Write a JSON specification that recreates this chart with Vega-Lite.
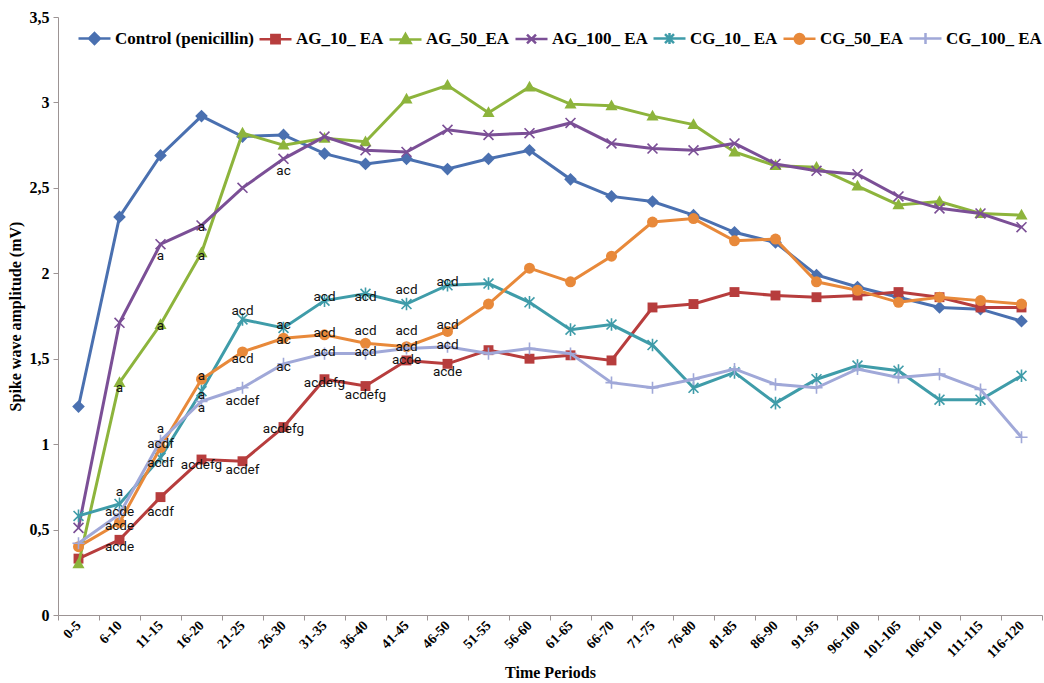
{
"$schema": "https://vega.github.io/schema/vega-lite/v6.json",
"width": 984, "height": 598,
"autosize": "none",
"padding": {"left": 58, "top": 17, "right": 2, "bottom": 68},
"background": "white",
"config": {"view": {"stroke": null}, "font": "Liberation Serif",
 "legend": {"orient": "none", "legendX": 19, "legendY": 4, "direction": "horizontal", "columns": 7, "symbolSize": 1024, "symbolStrokeWidth": 2.5, "labelFont": "Liberation Serif", "labelFontWeight": "bold", "labelFontSize": 17, "labelColor": "black", "labelOffset": 3, "columnPadding": 0, "labelLimit": 0}},
"datasets": {
"series": [
{"p":"0-5","s":"Control (penicillin)","v":1.22},{"p":"6-10","s":"Control (penicillin)","v":2.33},{"p":"11-15","s":"Control (penicillin)","v":2.69},{"p":"16-20","s":"Control (penicillin)","v":2.92},{"p":"21-25","s":"Control (penicillin)","v":2.80},{"p":"26-30","s":"Control (penicillin)","v":2.81},{"p":"31-35","s":"Control (penicillin)","v":2.70},{"p":"36-40","s":"Control (penicillin)","v":2.64},{"p":"41-45","s":"Control (penicillin)","v":2.67},{"p":"46-50","s":"Control (penicillin)","v":2.61},{"p":"51-55","s":"Control (penicillin)","v":2.67},{"p":"56-60","s":"Control (penicillin)","v":2.72},{"p":"61-65","s":"Control (penicillin)","v":2.55},{"p":"66-70","s":"Control (penicillin)","v":2.45},{"p":"71-75","s":"Control (penicillin)","v":2.42},{"p":"76-80","s":"Control (penicillin)","v":2.34},{"p":"81-85","s":"Control (penicillin)","v":2.24},{"p":"86-90","s":"Control (penicillin)","v":2.18},{"p":"91-95","s":"Control (penicillin)","v":1.99},{"p":"96-100","s":"Control (penicillin)","v":1.92},{"p":"101-105","s":"Control (penicillin)","v":1.86},{"p":"106-110","s":"Control (penicillin)","v":1.80},{"p":"111-115","s":"Control (penicillin)","v":1.79},{"p":"116-120","s":"Control (penicillin)","v":1.72},
{"p":"0-5","s":"AG_10_ EA","v":0.33},{"p":"6-10","s":"AG_10_ EA","v":0.44},{"p":"11-15","s":"AG_10_ EA","v":0.69},{"p":"16-20","s":"AG_10_ EA","v":0.91},{"p":"21-25","s":"AG_10_ EA","v":0.90},{"p":"26-30","s":"AG_10_ EA","v":1.10},{"p":"31-35","s":"AG_10_ EA","v":1.38},{"p":"36-40","s":"AG_10_ EA","v":1.34},{"p":"41-45","s":"AG_10_ EA","v":1.49},{"p":"46-50","s":"AG_10_ EA","v":1.47},{"p":"51-55","s":"AG_10_ EA","v":1.55},{"p":"56-60","s":"AG_10_ EA","v":1.50},{"p":"61-65","s":"AG_10_ EA","v":1.52},{"p":"66-70","s":"AG_10_ EA","v":1.49},{"p":"71-75","s":"AG_10_ EA","v":1.80},{"p":"76-80","s":"AG_10_ EA","v":1.82},{"p":"81-85","s":"AG_10_ EA","v":1.89},{"p":"86-90","s":"AG_10_ EA","v":1.87},{"p":"91-95","s":"AG_10_ EA","v":1.86},{"p":"96-100","s":"AG_10_ EA","v":1.87},{"p":"101-105","s":"AG_10_ EA","v":1.89},{"p":"106-110","s":"AG_10_ EA","v":1.86},{"p":"111-115","s":"AG_10_ EA","v":1.80},{"p":"116-120","s":"AG_10_ EA","v":1.80},
{"p":"0-5","s":"AG_50_EA","v":0.30},{"p":"6-10","s":"AG_50_EA","v":1.36},{"p":"11-15","s":"AG_50_EA","v":1.70},{"p":"16-20","s":"AG_50_EA","v":2.12},{"p":"21-25","s":"AG_50_EA","v":2.82},{"p":"26-30","s":"AG_50_EA","v":2.75},{"p":"31-35","s":"AG_50_EA","v":2.79},{"p":"36-40","s":"AG_50_EA","v":2.77},{"p":"41-45","s":"AG_50_EA","v":3.02},{"p":"46-50","s":"AG_50_EA","v":3.10},{"p":"51-55","s":"AG_50_EA","v":2.94},{"p":"56-60","s":"AG_50_EA","v":3.09},{"p":"61-65","s":"AG_50_EA","v":2.99},{"p":"66-70","s":"AG_50_EA","v":2.98},{"p":"71-75","s":"AG_50_EA","v":2.92},{"p":"76-80","s":"AG_50_EA","v":2.87},{"p":"81-85","s":"AG_50_EA","v":2.71},{"p":"86-90","s":"AG_50_EA","v":2.63},{"p":"91-95","s":"AG_50_EA","v":2.62},{"p":"96-100","s":"AG_50_EA","v":2.51},{"p":"101-105","s":"AG_50_EA","v":2.40},{"p":"106-110","s":"AG_50_EA","v":2.42},{"p":"111-115","s":"AG_50_EA","v":2.35},{"p":"116-120","s":"AG_50_EA","v":2.34},
{"p":"0-5","s":"AG_100_ EA","v":0.51},{"p":"6-10","s":"AG_100_ EA","v":1.71},{"p":"11-15","s":"AG_100_ EA","v":2.17},{"p":"16-20","s":"AG_100_ EA","v":2.28},{"p":"21-25","s":"AG_100_ EA","v":2.50},{"p":"26-30","s":"AG_100_ EA","v":2.67},{"p":"31-35","s":"AG_100_ EA","v":2.80},{"p":"36-40","s":"AG_100_ EA","v":2.72},{"p":"41-45","s":"AG_100_ EA","v":2.71},{"p":"46-50","s":"AG_100_ EA","v":2.84},{"p":"51-55","s":"AG_100_ EA","v":2.81},{"p":"56-60","s":"AG_100_ EA","v":2.82},{"p":"61-65","s":"AG_100_ EA","v":2.88},{"p":"66-70","s":"AG_100_ EA","v":2.76},{"p":"71-75","s":"AG_100_ EA","v":2.73},{"p":"76-80","s":"AG_100_ EA","v":2.72},{"p":"81-85","s":"AG_100_ EA","v":2.76},{"p":"86-90","s":"AG_100_ EA","v":2.64},{"p":"91-95","s":"AG_100_ EA","v":2.60},{"p":"96-100","s":"AG_100_ EA","v":2.58},{"p":"101-105","s":"AG_100_ EA","v":2.45},{"p":"106-110","s":"AG_100_ EA","v":2.38},{"p":"111-115","s":"AG_100_ EA","v":2.35},{"p":"116-120","s":"AG_100_ EA","v":2.27},
{"p":"0-5","s":"CG_10_ EA","v":0.58},{"p":"6-10","s":"CG_10_ EA","v":0.65},{"p":"11-15","s":"CG_10_ EA","v":0.92},{"p":"16-20","s":"CG_10_ EA","v":1.31},{"p":"21-25","s":"CG_10_ EA","v":1.73},{"p":"26-30","s":"CG_10_ EA","v":1.68},{"p":"31-35","s":"CG_10_ EA","v":1.84},{"p":"36-40","s":"CG_10_ EA","v":1.88},{"p":"41-45","s":"CG_10_ EA","v":1.82},{"p":"46-50","s":"CG_10_ EA","v":1.93},{"p":"51-55","s":"CG_10_ EA","v":1.94},{"p":"56-60","s":"CG_10_ EA","v":1.83},{"p":"61-65","s":"CG_10_ EA","v":1.67},{"p":"66-70","s":"CG_10_ EA","v":1.70},{"p":"71-75","s":"CG_10_ EA","v":1.58},{"p":"76-80","s":"CG_10_ EA","v":1.33},{"p":"81-85","s":"CG_10_ EA","v":1.42},{"p":"86-90","s":"CG_10_ EA","v":1.24},{"p":"91-95","s":"CG_10_ EA","v":1.38},{"p":"96-100","s":"CG_10_ EA","v":1.46},{"p":"101-105","s":"CG_10_ EA","v":1.43},{"p":"106-110","s":"CG_10_ EA","v":1.26},{"p":"111-115","s":"CG_10_ EA","v":1.26},{"p":"116-120","s":"CG_10_ EA","v":1.40},
{"p":"0-5","s":"CG_50_EA","v":0.40},{"p":"6-10","s":"CG_50_EA","v":0.54},{"p":"11-15","s":"CG_50_EA","v":0.98},{"p":"16-20","s":"CG_50_EA","v":1.38},{"p":"21-25","s":"CG_50_EA","v":1.54},{"p":"26-30","s":"CG_50_EA","v":1.62},{"p":"31-35","s":"CG_50_EA","v":1.64},{"p":"36-40","s":"CG_50_EA","v":1.59},{"p":"41-45","s":"CG_50_EA","v":1.57},{"p":"46-50","s":"CG_50_EA","v":1.66},{"p":"51-55","s":"CG_50_EA","v":1.82},{"p":"56-60","s":"CG_50_EA","v":2.03},{"p":"61-65","s":"CG_50_EA","v":1.95},{"p":"66-70","s":"CG_50_EA","v":2.10},{"p":"71-75","s":"CG_50_EA","v":2.30},{"p":"76-80","s":"CG_50_EA","v":2.32},{"p":"81-85","s":"CG_50_EA","v":2.19},{"p":"86-90","s":"CG_50_EA","v":2.20},{"p":"91-95","s":"CG_50_EA","v":1.95},{"p":"96-100","s":"CG_50_EA","v":1.90},{"p":"101-105","s":"CG_50_EA","v":1.83},{"p":"106-110","s":"CG_50_EA","v":1.86},{"p":"111-115","s":"CG_50_EA","v":1.84},{"p":"116-120","s":"CG_50_EA","v":1.82},
{"p":"0-5","s":"CG_100_ EA","v":0.42},{"p":"6-10","s":"CG_100_ EA","v":0.59},{"p":"11-15","s":"CG_100_ EA","v":1.02},{"p":"16-20","s":"CG_100_ EA","v":1.25},{"p":"21-25","s":"CG_100_ EA","v":1.33},{"p":"26-30","s":"CG_100_ EA","v":1.47},{"p":"31-35","s":"CG_100_ EA","v":1.53},{"p":"36-40","s":"CG_100_ EA","v":1.53},{"p":"41-45","s":"CG_100_ EA","v":1.56},{"p":"46-50","s":"CG_100_ EA","v":1.57},{"p":"51-55","s":"CG_100_ EA","v":1.53},{"p":"56-60","s":"CG_100_ EA","v":1.56},{"p":"61-65","s":"CG_100_ EA","v":1.53},{"p":"66-70","s":"CG_100_ EA","v":1.36},{"p":"71-75","s":"CG_100_ EA","v":1.33},{"p":"76-80","s":"CG_100_ EA","v":1.38},{"p":"81-85","s":"CG_100_ EA","v":1.44},{"p":"86-90","s":"CG_100_ EA","v":1.35},{"p":"91-95","s":"CG_100_ EA","v":1.33},{"p":"96-100","s":"CG_100_ EA","v":1.44},{"p":"101-105","s":"CG_100_ EA","v":1.39},{"p":"106-110","s":"CG_100_ EA","v":1.41},{"p":"111-115","s":"CG_100_ EA","v":1.32},{"p":"116-120","s":"CG_100_ EA","v":1.04}
],
"labels": [
{"p":"6-10","v":1.33,"t":"a"},{"p":"11-15","v":1.69,"t":"a"},{"p":"11-15","v":2.10,"t":"a"},{"p":"16-20","v":2.10,"t":"a"},{"p":"16-20","v":2.27,"t":"a"},{"p":"26-30","v":2.60,"t":"ac"},
{"p":"21-25","v":1.78,"t":"acd"},{"p":"26-30","v":1.70,"t":"ac"},{"p":"31-35","v":1.86,"t":"acd"},{"p":"36-40","v":1.86,"t":"acd"},{"p":"41-45","v":1.90,"t":"acd"},{"p":"46-50","v":1.95,"t":"acd"},
{"p":"21-25","v":1.50,"t":"acd"},{"p":"26-30","v":1.61,"t":"ac"},{"p":"31-35","v":1.65,"t":"acd"},{"p":"36-40","v":1.66,"t":"acd"},{"p":"41-45","v":1.66,"t":"acd"},{"p":"46-50","v":1.70,"t":"acd"},
{"p":"31-35","v":1.54,"t":"acd"},{"p":"36-40","v":1.54,"t":"acd"},{"p":"41-45","v":1.57,"t":"acd"},{"p":"46-50","v":1.58,"t":"acd"},{"p":"26-30","v":1.45,"t":"ac"},{"p":"21-25","v":1.25,"t":"acdef"},
{"p":"16-20","v":1.40,"t":"a"},{"p":"16-20","v":1.29,"t":"a"},{"p":"16-20","v":1.21,"t":"a"},
{"p":"26-30","v":1.09,"t":"acdefg"},{"p":"31-35","v":1.36,"t":"acdefg"},{"p":"36-40","v":1.29,"t":"acdefg"},{"p":"41-45","v":1.49,"t":"acde"},{"p":"46-50","v":1.42,"t":"acde"},
{"p":"16-20","v":0.88,"t":"acdefg"},{"p":"21-25","v":0.85,"t":"acdef"},{"p":"11-15","v":0.60,"t":"acdf"},{"p":"6-10","v":0.40,"t":"acde"},
{"p":"11-15","v":1.09,"t":"a"},{"p":"11-15","v":1.00,"t":"acdf"},{"p":"11-15","v":0.89,"t":"acdf"},{"p":"6-10","v":0.72,"t":"a"},{"p":"6-10","v":0.60,"t":"acde"},{"p":"6-10","v":0.52,"t":"acde"}
],
"legendrows": [
{"s":"Control (penicillin)","v":null},{"s":"AG_10_ EA","v":null},{"s":"AG_50_EA","v":null},{"s":"AG_100_ EA","v":null},{"s":"CG_10_ EA","v":null},{"s":"CG_50_EA","v":null},{"s":"CG_100_ EA","v":null}
]
},
"layer": [
{
"data": {"name": "series"},
"transform": [{"filter": {"field": "s", "equal": "Control (penicillin)"}}],
"mark": {"type": "line", "strokeWidth": 3, "color": "#4a70b0", "point": {"filled": true, "size": 121, "opacity": 1, "color": "#4a70b0", "shape": "M0,-1.15L1.15,0L0,1.15L-1.15,0Z"}},
"encoding": {
"x": {"field": "p", "type": "ordinal",
 "scale": {"type": "band", "paddingInner": 0, "paddingOuter": 0, "domain": ["0-5","6-10","11-15","16-20","21-25","26-30","31-35","36-40","41-45","46-50","51-55","56-60","61-65","66-70","71-75","76-80","81-85","86-90","91-95","96-100","101-105","106-110","111-115","116-120"]},
 "axis": {"tickBand": "extent", "labelAngle": -45, "labelAlign": "right", "labelBaseline": "middle", "labelOverlap": false, "labelFont": "Liberation Serif", "labelFontWeight": "bold", "labelFontSize": 14, "labelColor": "black", "labelPadding": 3, "domainColor": "#9c9494", "tickColor": "#9c9494", "tickSize": 5, "grid": false, "title": "Time Periods", "titleFont": "Liberation Serif", "titleFontSize": 16, "titleFontWeight": "bold", "titleColor": "black", "titlePadding": 4}},
"y": {"field": "v", "type": "quantitative",
 "scale": {"domain": [0, 3.5], "nice": false, "zero": true},
 "axis": {"values": [0,0.5,1,1.5,2,2.5,3,3.5], "labelExpr": "replace(format(datum.value,'~g'),'.',',')", "grid": false, "domainColor": "#9c9494", "tickColor": "#9c9494", "tickSize": 5, "labelFont": "Liberation Serif", "labelFontWeight": "bold", "labelFontSize": 16, "labelColor": "black", "labelPadding": 4, "title": "Spike wave amplitude (mV)", "titleFont": "Liberation Serif", "titleFontSize": 16, "titleFontWeight": "bold", "titleColor": "black", "titlePadding": 6}},
"order": {"value": null}
}
},
{
"data": {"name": "series"},
"transform": [{"filter": {"field": "s", "equal": "AG_10_ EA"}}],
"mark": {"type": "line", "strokeWidth": 3, "color": "#b73d3d", "point": {"filled": true, "size": 121, "opacity": 1, "color": "#b73d3d", "shape": "M-0.9,-0.9H0.9V0.9H-0.9Z"}},
"encoding": {"x": {"field": "p", "type": "ordinal"}, "y": {"field": "v", "type": "quantitative"}, "order": {"value": null}}
},
{
"data": {"name": "series"},
"transform": [{"filter": {"field": "s", "equal": "AG_50_EA"}}],
"mark": {"type": "line", "strokeWidth": 3, "color": "#8db43c", "point": {"filled": true, "size": 121, "opacity": 1, "color": "#8db43c", "shape": "M0,-1.15L1.1,0.8H-1.1Z"}},
"encoding": {"x": {"field": "p", "type": "ordinal"}, "y": {"field": "v", "type": "quantitative"}, "order": {"value": null}}
},
{
"data": {"name": "series"},
"transform": [{"filter": {"field": "s", "equal": "AG_100_ EA"}}],
"mark": {"type": "line", "strokeWidth": 3, "color": "#7b4f96", "point": {"filled": false, "size": 121, "strokeWidth": 1.6, "opacity": 1, "color": "#7b4f96", "shape": "M-0.9,-0.9L0.9,0.9M-0.9,0.9L0.9,-0.9"}},
"encoding": {"x": {"field": "p", "type": "ordinal"}, "y": {"field": "v", "type": "quantitative"}, "order": {"value": null}}
},
{
"data": {"name": "series"},
"transform": [{"filter": {"field": "s", "equal": "CG_10_ EA"}}],
"mark": {"type": "line", "strokeWidth": 3, "color": "#3f9ca9", "point": {"filled": false, "size": 121, "strokeWidth": 1.6, "opacity": 1, "color": "#3f9ca9", "shape": "M-0.9,-0.9L0.9,0.9M-0.9,0.9L0.9,-0.9M0,-1.15V1.15"}},
"encoding": {"x": {"field": "p", "type": "ordinal"}, "y": {"field": "v", "type": "quantitative"}, "order": {"value": null}}
},
{
"data": {"name": "series"},
"transform": [{"filter": {"field": "s", "equal": "CG_50_EA"}}],
"mark": {"type": "line", "strokeWidth": 3, "color": "#e8893a", "point": {"filled": true, "size": 121, "opacity": 1, "color": "#e8893a", "shape": "circle"}},
"encoding": {"x": {"field": "p", "type": "ordinal"}, "y": {"field": "v", "type": "quantitative"}, "order": {"value": null}}
},
{
"data": {"name": "series"},
"transform": [{"filter": {"field": "s", "equal": "CG_100_ EA"}}],
"mark": {"type": "line", "strokeWidth": 3, "color": "#a0a8d8", "point": {"filled": false, "size": 121, "strokeWidth": 1.6, "opacity": 1, "color": "#a0a8d8", "shape": "M-1.1,0H1.1M0,-1.1V1.1"}},
"encoding": {"x": {"field": "p", "type": "ordinal"}, "y": {"field": "v", "type": "quantitative"}, "order": {"value": null}}
},
{
"data": {"name": "labels"},
"mark": {"type": "text", "font": "Roboto", "fontSize": 13.5, "color": "#111111", "align": "center", "baseline": "middle"},
"encoding": {
"x": {"field": "p", "type": "ordinal"},
"y": {"field": "v", "type": "quantitative"},
"text": {"field": "t"}
}
},
{
"data": {"name": "legendrows"},
"mark": {"type": "point", "filled": true, "opacity": 1},
"encoding": {
"y": {"field": "v", "type": "quantitative"},
"fill": {"field": "s", "type": "nominal", "legend": {"title": null},
 "scale": {"domain": ["Control (penicillin)","AG_10_ EA","AG_50_EA","AG_100_ EA","CG_10_ EA","CG_50_EA","CG_100_ EA"], "range": ["#4a70b0","#b73d3d","#8db43c","#7b4f96","#3f9ca9","#e8893a","#a0a8d8"]}},
"stroke": {"field": "s", "type": "nominal", "legend": {"title": null},
 "scale": {"domain": ["Control (penicillin)","AG_10_ EA","AG_50_EA","AG_100_ EA","CG_10_ EA","CG_50_EA","CG_100_ EA"], "range": ["#4a70b0","#b73d3d","#8db43c","#7b4f96","#3f9ca9","#e8893a","#a0a8d8"]}},
"shape": {"field": "s", "type": "nominal", "legend": {"title": null},
 "scale": {"domain": ["Control (penicillin)","AG_10_ EA","AG_50_EA","AG_100_ EA","CG_10_ EA","CG_50_EA","CG_100_ EA"], "range": ["M-1,0H1M0,-0.34L0.34,0L0,0.34L-0.34,0Z","M-1,0H1M-0.26,-0.26H0.26V0.26H-0.26Z","M-1,0H1M0,-0.34L0.32,0.22H-0.32Z","M-1,0H1M-0.28,-0.28L0.28,0.28M-0.28,0.28L0.28,-0.28","M-1,0H1M-0.28,-0.28L0.28,0.28M-0.28,0.28L0.28,-0.28M0,-0.34V0.34","M-1,0H1M-0.3,0A0.3,0.3,0,1,0,0.3,0A0.3,0.3,0,1,0,-0.3,0Z","M-1,0H1M0,-0.34V0.34"]}}
}
}
]
}
